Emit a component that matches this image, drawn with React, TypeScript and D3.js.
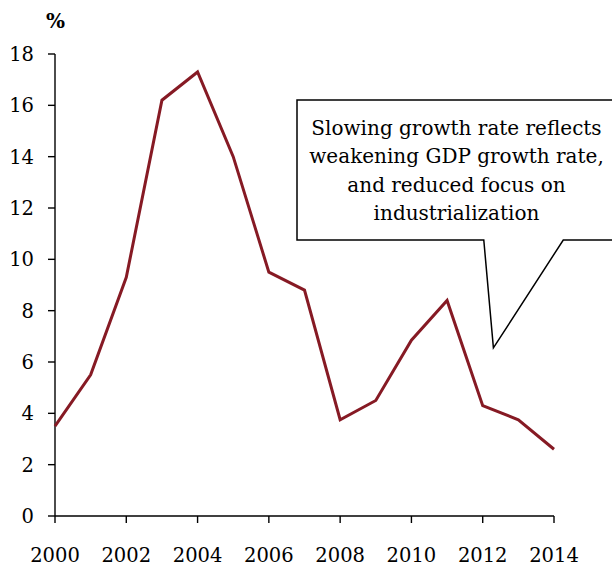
import React from "react";
import * as d3 from "d3";

// Annual growth rate, %
const years = [2000, 2001, 2002, 2003, 2004, 2005, 2006, 2007, 2008, 2009, 2010, 2011, 2012, 2013, 2014];
const growth = [3.5, 5.5, 9.3, 16.2, 17.3, 14.0, 9.5, 8.8, 3.75, 4.5, 6.85, 8.4, 4.3, 3.75, 2.6];
const yTicks = [0, 2, 4, 6, 8, 10, 12, 14, 16, 18];
const xTicks = [2000, 2002, 2004, 2006, 2008, 2010, 2012, 2014];
const unitLabel = "%";
const calloutLines = [
  "Slowing growth rate reflects",
  "weakening GDP growth rate,",
  "and reduced focus on",
  "industrialization",
];

const W = 612;
const H = 570;
const FONT = "'DejaVu Serif', Georgia, serif";
const LINE_COLOR = "#861a24";

export default function App() {
  const x = d3.scaleLinear().domain([2000, 2014]).range([55, 554]);
  const y = d3.scaleLinear().domain([0, 18]).range([516, 54]);

  const line = d3
    .line<number>()
    .x((_, i) => x(years[i]))
    .y((d) => y(d));

  // Speech-bubble callout: box plus a pointer towards the 2012 dip
  const box = { left: 297, top: 100, right: W + 4, bottom: 240 };
  const tip = { x: x(2012.3), y: y(6.55) };
  const baseL = x(2012.03);
  const baseR = x(2014.26);
  const calloutPath =
    `M${box.left},${box.top} H${box.right} V${box.bottom} H${baseR} ` +
    `L${tip.x},${tip.y} L${baseL},${box.bottom} H${box.left} Z`;
  const textCx = 456.5;

  return (
    <svg
      width={W}
      height={H}
      style={{ position: "absolute", left: 0, top: 0, background: "#fff" }}
      fontFamily={FONT}
    >
      {/* unit label */}
      <text x={55.5} y={28} textAnchor="middle" fontSize={20} fontWeight="bold" fill="#000">
        {unitLabel}
      </text>

      {/* y axis */}
      <line x1={55} x2={55} y1={y(18)} y2={y(0)} stroke="#000" strokeWidth={1.4} />
      {yTicks.map((t) => (
        <g key={t}>
          <line x1={48} x2={55} y1={y(t)} y2={y(t)} stroke="#000" strokeWidth={1.4} />
          <text x={34} y={y(t) + 7} textAnchor="end" fontSize={19.5} fill="#000">
            {t}
          </text>
        </g>
      ))}

      {/* x axis */}
      <line x1={x(2000)} x2={x(2014)} y1={y(0)} y2={y(0)} stroke="#000" strokeWidth={1.4} />
      {xTicks.map((t) => (
        <g key={t}>
          <line x1={x(t)} x2={x(t)} y1={y(0)} y2={y(0) + 7} stroke="#000" strokeWidth={1.4} />
          <text x={x(t)} y={562} textAnchor="middle" fontSize={19.5} fill="#000">
            {t}
          </text>
        </g>
      ))}

      {/* series */}
      <path
        d={line(growth) ?? ""}
        fill="none"
        stroke={LINE_COLOR}
        strokeWidth={3}
        strokeLinejoin="miter"
      />

      {/* callout */}
      <path d={calloutPath} fill="#fff" stroke="#000" strokeWidth={1.5} />
      {calloutLines.map((s, i) => (
        <text
          key={i}
          x={textCx}
          y={135 + i * 28.4}
          textAnchor="middle"
          fontSize={20}
          fill="#000"
        >
          {s}
        </text>
      ))}
    </svg>
  );
}
